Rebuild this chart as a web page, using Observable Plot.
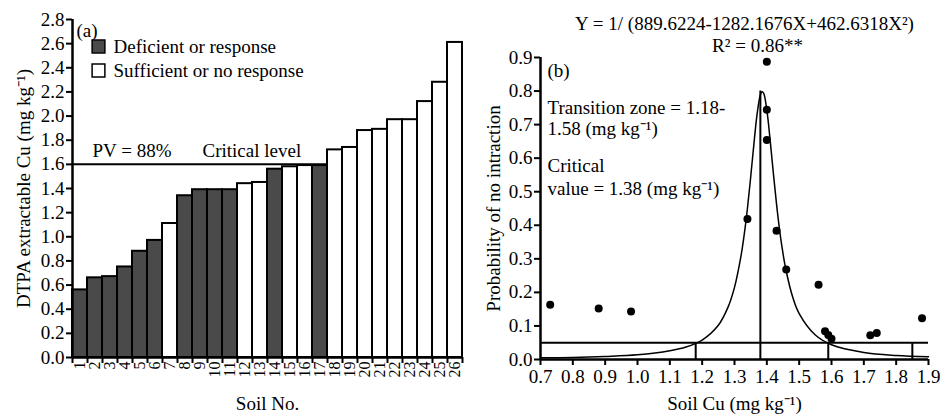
<!DOCTYPE html>
<html><head><meta charset="utf-8">
<script src="https://cdn.jsdelivr.net/npm/d3@7"></script>
<script src="https://cdn.jsdelivr.net/npm/@observablehq/plot@0.6"></script>
<style>
body{margin:0;background:#fff;}
#wrap{display:flex;width:942px;height:419px;}
#wrap svg{overflow:visible;display:block}
#wrap svg, #wrap svg text{font-family:"Liberation Serif","Times New Roman",serif !important;}
</style></head><body><div id="wrap"></div>
<script>
// ---- Panel (a) data ----
const soilNo = [1,2,3,4,5,6,7,8,9,10,11,12,13,14,15,16,17,18,19,20,21,22,23,24,25,26];
const dtpaCu = [0.56,0.66,0.67,0.75,0.88,0.97,1.11,1.34,1.39,1.39,1.39,1.44,1.45,1.56,1.58,1.59,1.59,1.72,1.74,1.88,1.89,1.97,1.97,2.12,2.28,2.61];
const responseGroup = ["D","D","D","D","D","D","S","D","D","D","D","S","S","D","S","S","D","S","S","S","S","S","S","S","S","S"];
const leftYTicks = [0,0.2,0.4,0.6,0.8,1.0,1.2,1.4,1.6,1.8,2.0,2.2,2.4,2.6,2.8];
const criticalLevel = 1.6;
const criticalLevelLastSoil = 17;
const legendLabels = ["Deficient or response", "Sufficient or no response"];

// ---- Panel (b) data ----
const soilCu = [0.73,0.88,0.98,1.34,1.40,1.40,1.40,1.43,1.46,1.56,1.58,1.59,1.60,1.72,1.74,1.88];
const probNoInteraction = [0.163,0.152,0.143,0.419,0.887,0.744,0.654,0.384,0.268,0.223,0.084,0.073,0.062,0.072,0.079,0.123];
const curveX = [0.70,0.80,0.90,1.00,1.10,1.15,1.20,1.25,1.28,1.30,1.32,1.33,1.34,1.35,1.36,1.37,1.38,1.385,1.39,1.40,1.41,1.42,1.43,1.44,1.45,1.46,1.48,1.50,1.55,1.60,1.70,1.80,1.90];
const curveY = [0.005,0.006,0.009,0.014,0.026,0.037,0.058,0.102,0.156,0.215,0.308,0.372,0.450,0.543,0.642,0.732,0.789,0.798,0.794,0.743,0.656,0.557,0.463,0.382,0.316,0.263,0.186,0.137,0.073,0.044,0.021,0.012,0.008];
const transitionZone = [1.18, 1.59];
const upperBoundary = 1.85;
const criticalValue = 1.38;
const criticalPeak = 0.80;
const probabilityCutoff = 0.05;
const rightXTicks = [0.7,0.8,0.9,1.0,1.1,1.2,1.3,1.4,1.5,1.6,1.7,1.8,1.9];
const rightYTicks = [0,0.1,0.2,0.3,0.4,0.5,0.6,0.7,0.8,0.9];

const FONT = "Liberation Serif";
const FS = 19;
const DARK = "#4a4a4a";

const bars = soilNo.map((s, i) => ({soil: s, cu: dtpaCu[i], group: responseGroup[i]}));
const edges = soilNo.map(s => s - 0.5).concat([soilNo[soilNo.length - 1] + 0.5]);

const left = Plot.plot({
  width: 470, height: 419,
  marginLeft: 72, marginRight: 8, marginTop: 19, marginBottom: 62,
  style: {fontFamily: FONT, fontSize: FS + "px", color: "#000", background: "white"},
  x: {domain: [0.5, 26.5]},
  y: {domain: [0, 2.8]},
  marks: [
    Plot.rectY(bars.filter(d => d.group === "D"), {x1: d => d.soil - 0.5, x2: d => d.soil + 0.5, y: "cu", fill: DARK, stroke: "black", strokeWidth: 2}),
    Plot.rectY(bars.filter(d => d.group === "S"), {x1: d => d.soil - 0.5, x2: d => d.soil + 0.5, y: "cu", fill: "white", stroke: "black", strokeWidth: 2}),
    Plot.ruleY([criticalLevel], {x1: 0.5, x2: criticalLevelLastSoil + 0.5, stroke: "black", strokeWidth: 2}),
    Plot.ruleX([0.5], {y1: 0, y2: 2.8, stroke: "black", strokeWidth: 2.5}),
    Plot.ruleY([0], {stroke: "black", strokeWidth: 2.5}),
    Plot.axisY({ticks: leftYTicks, tickFormat: d3.format(".1f"), tickSize: 6, strokeWidth: 2, tickPadding: 2, fontSize: FS,
      label: "DTPA extractable Cu (mg kg⁻¹)", labelAnchor: "center", labelOffset: 56, labelArrow: "none"}),
    Plot.axisX({ticks: edges, tickFormat: () => "", tickSize: 6, strokeWidth: 2, fontSize: FS,
      label: "Soil No.", labelAnchor: "center", labelOffset: 52, labelArrow: "none"}),
    Plot.axisX({ticks: soilNo, tickSize: 0, tickRotate: -90, tickPadding: 4, fontSize: 16, label: null}),
    Plot.text(["(a)"], {text: d => d, frameAnchor: "top-left", dx: 4, dy: 11, textAnchor: "start", lineAnchor: "middle", fontSize: FS}),
    Plot.dot([legendLabels[0]], {frameAnchor: "top-left", dx: 26, dy: 27, symbol: "square", r: 7.2, fill: DARK, stroke: "black", strokeWidth: 1.5}),
    Plot.dot([legendLabels[1]], {frameAnchor: "top-left", dx: 26, dy: 51, symbol: "square", r: 7.2, fill: "white", stroke: "black", strokeWidth: 1.5}),
    Plot.text([legendLabels[0]], {text: d => d, frameAnchor: "top-left", dx: 41, dy: 27, textAnchor: "start", lineAnchor: "middle", fontSize: FS}),
    Plot.text([legendLabels[1]], {text: d => d, frameAnchor: "top-left", dx: 41, dy: 51, textAnchor: "start", lineAnchor: "middle", fontSize: FS}),
    Plot.text(["PV = 88%"], {text: d => d, frameAnchor: "top-left", dx: 20, dy: 131, textAnchor: "start", lineAnchor: "middle", fontSize: FS}),
    Plot.text(["Critical level"], {text: d => d, frameAnchor: "top-left", dx: 130, dy: 131, textAnchor: "start", lineAnchor: "middle", fontSize: FS})
  ]
});

const points = soilCu.map((x, i) => ({x, y: probNoInteraction[i]}));
const curve = curveX.map((x, i) => ({x, y: curveY[i]}));

const right = Plot.plot({
  width: 472, height: 419,
  marginLeft: 70, marginRight: 14, marginTop: 57, marginBottom: 60,
  style: {fontFamily: FONT, fontSize: FS + "px", color: "#000", background: "white"},
  x: {domain: [0.7, 1.9]},
  y: {domain: [0, 0.9]},
  marks: [
    Plot.ruleY([probabilityCutoff], {stroke: "black", strokeWidth: 2}),
    Plot.ruleX(transitionZone.concat([upperBoundary]), {y1: 0, y2: probabilityCutoff, stroke: "black", strokeWidth: 2}),
    Plot.ruleX([criticalValue], {y1: 0, y2: criticalPeak, stroke: "black", strokeWidth: 2}),
    Plot.line(curve, {x: "x", y: "y", curve: "catmull-rom", stroke: "black", strokeWidth: 1.5}),
    Plot.dot(points, {x: "x", y: "y", r: 4, fill: "black"}),
    Plot.ruleX([0.7], {y1: 0, y2: 0.9, stroke: "black", strokeWidth: 2.5}),
    Plot.ruleY([0], {stroke: "black", strokeWidth: 2.5}),
    Plot.axisY({ticks: rightYTicks, tickFormat: d3.format(".1f"), tickSize: 6, strokeWidth: 2, tickPadding: 2, fontSize: FS,
      label: "Probability of no intraction", labelAnchor: "center", labelOffset: 54, labelArrow: "none"}),
    Plot.axisX({ticks: rightXTicks, tickFormat: d3.format(".1f"), tickSize: 6, strokeWidth: 2, tickPadding: 4, fontSize: FS,
      label: "Soil Cu (mg kg⁻¹)", labelAnchor: "center", labelOffset: 50, labelArrow: "none"}),
    Plot.text(["Y = 1/ (889.6224-1282.1676X+462.6318X²)"], {text: d => d, frameAnchor: "top", dx: 10, dy: -34, lineAnchor: "middle", fontSize: FS}),
    Plot.text(["R² = 0.86**"], {text: d => d, frameAnchor: "top", dx: 23, dy: -12, lineAnchor: "middle", fontSize: FS}),
    Plot.text(["(b)"], {text: d => d, frameAnchor: "top-left", dx: 7, dy: 13, textAnchor: "start", lineAnchor: "middle", fontSize: FS}),
    Plot.text(["Transition zone = 1.18-"], {text: d => d, frameAnchor: "top-left", dx: 7, dy: 50, textAnchor: "start", lineAnchor: "middle", fontSize: FS}),
    Plot.text(["1.58 (mg kg⁻¹)"], {text: d => d, frameAnchor: "top-left", dx: 7, dy: 71, textAnchor: "start", lineAnchor: "middle", fontSize: FS}),
    Plot.text(["Critical"], {text: d => d, frameAnchor: "top-left", dx: 7, dy: 108, textAnchor: "start", lineAnchor: "middle", fontSize: FS}),
    Plot.text(["value = 1.38 (mg kg⁻¹)"], {text: d => d, frameAnchor: "top-left", dx: 7, dy: 131, textAnchor: "start", lineAnchor: "middle", fontSize: FS})
  ]
});

document.getElementById("wrap").append(left, right);
</script>
</body></html>
